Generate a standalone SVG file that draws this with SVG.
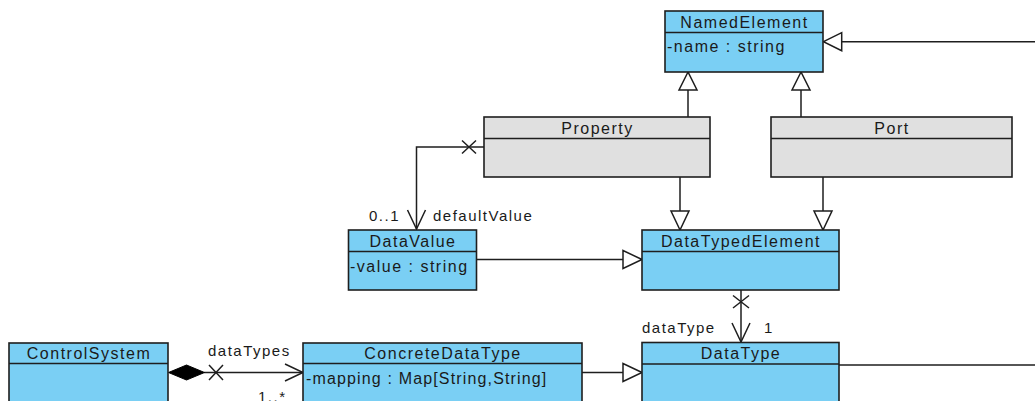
<svg xmlns="http://www.w3.org/2000/svg" width="1035" height="401" viewBox="0 0 1035 401">
<style>
.box{fill:#7acff4;stroke:#1e1e1e;stroke-width:1.6}
.gbox{fill:#e0e0e0;stroke:#1e1e1e;stroke-width:1.6}
.div{stroke:#1e1e1e;stroke-width:1.6}
.t{font-family:"Liberation Sans",Arial,sans-serif;font-size:16px;letter-spacing:1.5px;fill:#1a1a1a}
.lb{font-size:15px}
.c{text-anchor:middle}
.ln{fill:none;stroke:#1e1e1e;stroke-width:1.5}
.tri{fill:#ffffff;stroke:#1e1e1e;stroke-width:1.5}
.dia{fill:#000000;stroke:#000000;stroke-width:1}
</style>
<g id="connectors">
  <!-- NamedElement generalization from right -->
  <path class="ln" d="M1035,41.7 H841.7"/>
  <polygon class="tri" points="823.5,41.7 841.7,32.7 841.7,50.7"/>
  <!-- Property -> NamedElement -->
  <path class="ln" d="M688,117 V90"/>
  <polygon class="tri" points="688,72 679,90 697,90"/>
  <!-- Port -> NamedElement -->
  <path class="ln" d="M801,117 V90"/>
  <polygon class="tri" points="801,72 792,90 810,90"/>
  <!-- Property -> DataTypedElement -->
  <path class="ln" d="M680,177 V211"/>
  <polygon class="tri" points="680,230 671,211 689,211"/>
  <!-- Port -> DataTypedElement -->
  <path class="ln" d="M823,177 V211"/>
  <polygon class="tri" points="823,230 814,211 832,211"/>
  <!-- DataValue -> DataTypedElement -->
  <path class="ln" d="M476.5,259.5 H623"/>
  <polygon class="tri" points="642,259.5 623,250.5 623,268.5"/>
  <!-- Property -> DataValue association -->
  <path class="ln" d="M484,147 H416.5 V229"/>
  <path class="ln" d="M462,140.5 L476,153.5 M462,153.5 L476,140.5"/>
  <path class="ln" d="M407.5,210 L416.5,229 L425.5,210"/>
  <!-- DataTypedElement -> DataType association -->
  <path class="ln" d="M741,290 V342"/>
  <path class="ln" d="M733,295.5 L749,308 M733,308 L749,295.5"/>
  <path class="ln" d="M732,323 L741,342 L750,323"/>
  <!-- ConcreteDataType -> DataType -->
  <path class="ln" d="M582,372.5 H623"/>
  <polygon class="tri" points="642,372.5 623,363.5 623,381.5"/>
  <!-- DataType line to right -->
  <path class="ln" d="M839,365 H1035"/>
  <!-- ControlSystem composition -->
  <path class="ln" d="M204,372.5 H303"/>
  <polygon class="dia" points="168.5,372.5 186.5,365 204.5,372.5 186.5,380"/>
  <path class="ln" d="M209,365 L223,380 M209,380 L223,365"/>
  <path class="ln" d="M285,364 L303,372.5 L285,381"/>
  <!-- labels -->
  <text class="t lb" x="369" y="221">0..1</text>
  <text class="t lb" x="433" y="221">defaultValue</text>
  <text class="t lb" x="642" y="333">dataType</text>
  <text class="t lb" x="764" y="333">1</text>
  <text class="t lb" x="208" y="356">dataTypes</text>
  <text class="t lb" x="258" y="401.5">1..*</text>
</g>
<g id="NamedElement">
  <rect class="box" x="665" y="11" width="158" height="61"/>
  <line class="div" x1="665" y1="32.5" x2="823" y2="32.5"/>
  <text class="t c" x="744.5" y="28">NamedElement</text>
  <text class="t" x="667" y="52">-name : string</text>
</g>
<g id="Property">
  <rect class="gbox" x="484" y="117" width="226" height="60"/>
  <line class="div" x1="484" y1="138.5" x2="710" y2="138.5"/>
  <text class="t c" x="597.5" y="133.5">Property</text>
</g>
<g id="Port">
  <rect class="gbox" x="771" y="117" width="241" height="60"/>
  <line class="div" x1="771" y1="138.5" x2="1012" y2="138.5"/>
  <text class="t c" x="892" y="133.5">Port</text>
</g>
<g id="DataValue">
  <rect class="box" x="348.5" y="230" width="128" height="60"/>
  <line class="div" x1="348.5" y1="251.5" x2="476.5" y2="251.5"/>
  <text class="t c" x="413" y="247">DataValue</text>
  <text class="t" x="350" y="272">-value : string</text>
</g>
<g id="DataTypedElement">
  <rect class="box" x="642" y="230" width="197" height="60"/>
  <line class="div" x1="642" y1="251.5" x2="839" y2="251.5"/>
  <text class="t c" x="741" y="247">DataTypedElement</text>
</g>
<g id="ControlSystem">
  <rect class="box" x="9" y="343" width="159" height="80"/>
  <line class="div" x1="9" y1="363.5" x2="168" y2="363.5"/>
  <text class="t c" x="89" y="359">ControlSystem</text>
</g>
<g id="ConcreteDataType">
  <rect class="box" x="303" y="343" width="279" height="80"/>
  <line class="div" x1="303" y1="363.5" x2="582" y2="363.5"/>
  <text class="t c" x="443" y="359">ConcreteDataType</text>
  <text class="t" x="306" y="384" style="letter-spacing:1.15px">-mapping : Map[String,String]</text>
</g>
<g id="DataType">
  <rect class="box" x="642" y="342.5" width="197" height="80"/>
  <line class="div" x1="642" y1="364" x2="839" y2="364"/>
  <text class="t c" x="741" y="359">DataType</text>
</g>
</svg>
